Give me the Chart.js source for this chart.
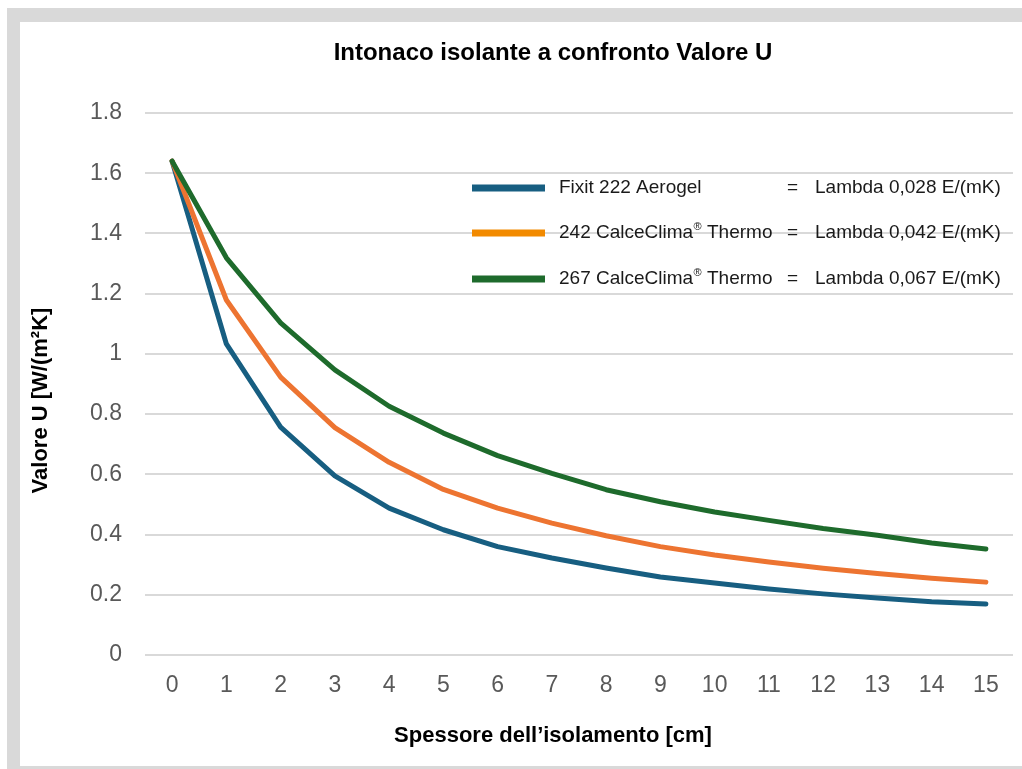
<!DOCTYPE html>
<html>
<head>
<meta charset="utf-8">
<script src="https://cdn.jsdelivr.net/npm/chart.js@4.4.1/dist/chart.umd.min.js"></script>
<style>
  html, body { margin: 0; padding: 0; background: #ffffff; overflow: hidden; }
  #frame { position: absolute; left: 7px; top: 8px; width: 1015px; height: 761px; background: #d9d9d9; }
  #c { position: absolute; left: 20px; top: 22px; background: #ffffff; }
</style>
</head>
<body>
<div id="frame"></div>
<canvas id="c" width="1002" height="744"></canvas>
<script>
// ---- data ----
const thicknessCm = ['0','1','2','3','4','5','6','7','8','9','10','11','12','13','14','15'];
const fixit222Aerogel = [1.64, 1.033, 0.757, 0.595, 0.488, 0.416, 0.36, 0.322, 0.289, 0.259, 0.239, 0.219, 0.203, 0.189, 0.177, 0.169];
const calceClima242 = [1.64, 1.179, 0.923, 0.755, 0.64, 0.55, 0.488, 0.438, 0.396, 0.36, 0.332, 0.309, 0.288, 0.271, 0.255, 0.242];
const calceClima267 = [1.64, 1.319, 1.103, 0.947, 0.826, 0.737, 0.662, 0.603, 0.549, 0.509, 0.475, 0.447, 0.42, 0.398, 0.372, 0.352];
const seriesNames = ['Fixit 222 Aerogel', '242 CalceClima® Thermo', '267 CalceClima® Thermo'];
const lambdaLabels = ['Lambda 0,028 E/(mK)', 'Lambda 0,042 E/(mK)', 'Lambda 0,067 E/(mK)'];
const chartTitle = 'Intonaco isolante a confronto Valore U';
const xAxisTitle = 'Spessore dell’isolamento [cm]';
const yAxisTitle = 'Valore U [W/(m²K]';

// ---- styles ----
const FONT = '"Liberation Sans", Arial, Helvetica, sans-serif';
const lineColors = ['#175e81', '#ed7431', '#1e6b2c'];
const legendColors = ['#175e81', '#f28a00', '#1e6b2c'];

const overlay = {
  id: 'overlay',
  afterDraw(chart) {
    const ctx = chart.ctx;
    ctx.save();
    ctx.fillStyle = '#000000';
    ctx.textAlign = 'center';
    ctx.textBaseline = 'middle';
    ctx.font = 'bold 24px ' + FONT;
    ctx.fillText(chartTitle, 533, 31);
    ctx.font = 'bold 22px ' + FONT;
    ctx.fillText(xAxisTitle, 533, 714);
    ctx.translate(21, 378.5);
    ctx.rotate(-Math.PI / 2);
    ctx.fillText(yAxisTitle, 0, 0);
    ctx.restore();

    // legend
    const rows = [166, 211, 257];
    ctx.save();
    for (let i = 0; i < seriesNames.length; i++) {
      const y = rows[i];
      ctx.strokeStyle = legendColors[i];
      ctx.lineWidth = 7;
      ctx.lineCap = 'butt';
      ctx.beginPath();
      ctx.moveTo(452, y);
      ctx.lineTo(525, y);
      ctx.stroke();

      ctx.fillStyle = '#1a1a1a';
      ctx.textAlign = 'left';
      ctx.textBaseline = 'middle';
      ctx.font = '19px ' + FONT;
      const parts = seriesNames[i].split('®');
      let x = 539;
      ctx.fillText(parts[0], x, y);
      x += ctx.measureText(parts[0]).width;
      if (parts.length > 1) {
        ctx.font = '11px ' + FONT;
        ctx.fillText('®', x + 0.5, y - 6);
        x += ctx.measureText('®').width + 0.5;
        ctx.font = '19px ' + FONT;
        ctx.fillText(parts[1], x, y);
      }
      ctx.fillText('=', 767, y);
      ctx.fillText(lambdaLabels[i], 795, y);
    }
    ctx.restore();
  }
};

new Chart(document.getElementById('c'), {
  type: 'line',
  data: {
    labels: thicknessCm,
    datasets: [
      { label: seriesNames[0], data: fixit222Aerogel, borderColor: lineColors[0], backgroundColor: lineColors[0], order: 2 },
      { label: seriesNames[1], data: calceClima242, borderColor: lineColors[1], backgroundColor: lineColors[1], order: 1 },
      { label: seriesNames[2], data: calceClima267, borderColor: lineColors[2], backgroundColor: lineColors[2], order: 0 }
    ]
  },
  options: {
    responsive: false,
    animation: false,
    devicePixelRatio: 1,
    layout: { padding: { left: 0, right: 9, top: 91, bottom: 0 } },
    elements: {
      line: { borderWidth: 5, tension: 0, borderCapStyle: 'round', borderJoinStyle: 'round', fill: false },
      point: { radius: 0, hoverRadius: 0 }
    },
    plugins: {
      legend: { display: false },
      tooltip: { enabled: false },
      title: { display: false }
    },
    scales: {
      x: {
        type: 'category',
        offset: true,
        grid: { display: false, drawTicks: false },
        border: { display: false },
        ticks: { color: '#595959', font: { family: FONT, size: 23 }, padding: 17, maxRotation: 0, autoSkip: false },
        afterFit(s) { s.height = 111; }
      },
      y: {
        min: 0,
        max: 1.8,
        grid: { color: '#d9d9d9', lineWidth: 2, drawTicks: false },
        border: { display: false },
        ticks: { stepSize: 0.2, color: '#595959', font: { family: FONT, size: 23 }, padding: 23,
                 callback: (v) => String(Math.round(v * 10) / 10) },
        afterFit(s) { s.width = 125; }
      }
    }
  },
  plugins: [overlay]
});
</script>
</body>
</html>
